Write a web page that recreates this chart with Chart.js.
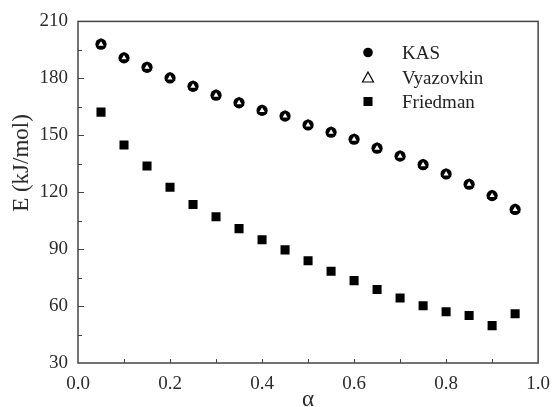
<!DOCTYPE html>
<html>
<head>
<meta charset="utf-8">
<script src="https://cdn.jsdelivr.net/npm/chart.js@4/dist/chart.umd.min.js"></script>
<style>
  html, body { margin: 0; padding: 0; background: #fff; }
  #wrap { width: 560px; height: 407px; }
</style>
</head>
<body>
<div id="wrap"><canvas id="chart" width="560" height="407"></canvas></div>
<script>
// conversion degree
const alpha = [0.05, 0.10, 0.15, 0.20, 0.25, 0.30, 0.35, 0.40, 0.45, 0.50,
               0.55, 0.60, 0.65, 0.70, 0.75, 0.80, 0.85, 0.90, 0.95];
// activation energy (kJ/mol)
const kas       = [198.0, 190.8, 185.8, 180.2, 175.8, 171.1, 167.1, 163.1, 160.1, 155.4,
                   151.6, 147.9, 143.2, 139.0, 134.5, 129.6, 124.2, 118.2, 110.9];
const vyazovkin = [198.0, 190.8, 185.8, 180.2, 175.8, 171.1, 167.1, 163.1, 160.1, 155.4,
                   151.6, 147.9, 143.2, 139.0, 134.5, 129.6, 124.2, 118.2, 110.9];
const friedman  = [162.2, 144.9, 133.8, 122.6, 113.5, 107.1, 100.8, 94.9, 89.6, 83.9,
                   78.3, 73.4, 68.7, 64.2, 60.2, 57.0, 55.0, 49.7, 56.0];
const seriesNames = ["KAS", "Vyazovkin", "Friedman"];
const yTitle = "E (kJ/mol)";

const serif = "'Liberation Serif', 'Times New Roman', serif";
const axisColor = "#444";
const textColor = "#2b2b2b";

const pts = ys => alpha.map((a, i) => ({ x: a, y: ys[i] }));

// frame, inward ticks, y title and the legend box
const decor = {
  id: "decor",
  afterDraw(chart) {
    const { ctx, chartArea: a, scales: { x, y } } = chart;
    ctx.save();
    ctx.strokeStyle = axisColor;
    ctx.lineWidth = 1.5;
    ctx.strokeRect(a.left, a.top, a.right - a.left, a.bottom - a.top);
    ctx.lineWidth = 1;
    ctx.beginPath();
    for (let i = 1; i < 10; i++) {
      const px = Math.round(x.getPixelForValue(i / 10)) + 0.5;
      ctx.moveTo(px, a.bottom); ctx.lineTo(px, a.bottom - 4);
    }
    for (let v = 45; v < 210; v += 15) {
      const py = Math.round(y.getPixelForValue(v)) + 0.5;
      const len = (v % 30 === 0) ? 6 : 4;
      ctx.moveTo(a.left, py); ctx.lineTo(a.left + len, py);
    }
    ctx.stroke();

    // y axis title (sits above the axis middle in the original)
    ctx.save();
    ctx.translate(22, 163);
    ctx.rotate(-Math.PI / 2);
    ctx.font = "23px " + serif;
    ctx.fillStyle = textColor;
    ctx.textAlign = "center";
    ctx.textBaseline = "middle";
    ctx.fillText(yTitle, 0, 0);
    ctx.restore();

    // legend
    const sx = 368, tx = 402, rows = [59, 84, 108];
    ctx.fillStyle = "#000";
    ctx.strokeStyle = "#000";
    ctx.beginPath();
    ctx.arc(sx, rows[0] - 6.5, 4.8, 0, Math.PI * 2);
    ctx.fill();
    ctx.lineWidth = 1.2;
    ctx.beginPath();
    ctx.moveTo(sx, rows[1] - 12);
    ctx.lineTo(sx + 5.5, rows[1] - 2);
    ctx.lineTo(sx - 5.5, rows[1] - 2);
    ctx.closePath();
    ctx.stroke();
    ctx.fillRect(sx - 4.5, rows[2] - 11, 9, 9);
    ctx.font = "19px " + serif;
    ctx.fillStyle = "#222";
    ctx.textAlign = "left";
    ctx.textBaseline = "alphabetic";
    seriesNames.forEach((n, i) => ctx.fillText(n, tx, rows[i]));
    ctx.restore();
  }
};

new Chart(document.getElementById("chart"), {
  type: "scatter",
  data: {
    datasets: [
      {
        label: "KAS", data: pts(kas), order: 2,
        pointStyle: "circle", pointRadius: 5.6, pointHoverRadius: 5.6,
        backgroundColor: "#000", borderColor: "#000", borderWidth: 0
      },
      {
        label: "Vyazovkin", data: pts(vyazovkin), order: 1,
        pointStyle: "triangle", pointRadius: 4.6, pointHoverRadius: 4.6,
        backgroundColor: "#fff", borderColor: "#000", borderWidth: 1.6
      },
      {
        label: "Friedman", data: pts(friedman), order: 3,
        pointStyle: "rect", pointRadius: 6.4, pointHoverRadius: 6.4,
        backgroundColor: "#000", borderColor: "#000", borderWidth: 0
      }
    ]
  },
  options: {
    responsive: false,
    animation: false,
    layout: { padding: { top: 19, right: 13, left: 0, bottom: 0 } },
    plugins: { legend: { display: false }, tooltip: { enabled: false } },
    scales: {
      x: {
        type: "linear", min: 0, max: 1,
        grid: { display: false, drawTicks: false },
        border: { display: false },
        ticks: {
          stepSize: 0.2, padding: 10, color: textColor,
          font: { family: serif, size: 19 },
          callback: v => v.toFixed(1)
        },
        title: {
          display: true, text: "α", color: textColor,
          font: { family: serif, size: 23, lineHeight: 0.65 },
          padding: { top: 0, bottom: 0 }
        },
        afterFit(s) { s.height = 44; }
      },
      y: {
        type: "linear", min: 30, max: 210,
        grid: { display: false, drawTicks: false },
        border: { display: false },
        ticks: {
          stepSize: 30, padding: 10, color: textColor,
          font: { family: serif, size: 19 }
        },
        title: { display: false },
        afterFit(s) { s.width = 78; }
      }
    }
  },
  plugins: [decor]
});
</script>
</body>
</html>
